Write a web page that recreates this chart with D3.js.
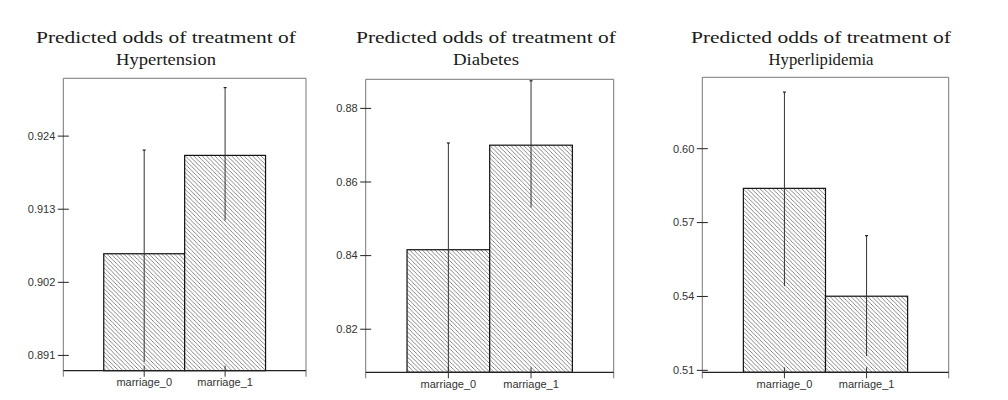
<!DOCTYPE html>
<html>
<head>
<meta charset="utf-8">
<script src="https://cdn.jsdelivr.net/npm/d3@7"></script>
<style>
  html, body { margin: 0; padding: 0; background: #fff; }
  svg { display: block; }
</style>
</head>
<body>
<svg id="chart" width="1008" height="400"></svg>
<script>
// ---------- DATA ----------
const categories = ["marriage_0", "marriage_1"];
const titleLine1 = "Predicted odds of treatment of";
const diseases = ["Hypertension", "Diabetes", "Hyperlipidemia"];

const hypertensionValues = [0.9063, 0.9211];
const hypertensionLower  = [0.8900, 0.9113];
const hypertensionUpper  = [0.9219, 0.9313];
const hypertensionTicks  = [0.891, 0.902, 0.913, 0.924];
const hypertensionDomain = [0.8887, 0.9327];

const diabetesValues = [0.8416, 0.8700];
const diabetesLower  = [0.8083, 0.8531];
const diabetesUpper  = [0.8706, 0.8875];
const diabetesTicks  = [0.82, 0.84, 0.86, 0.88];
const diabetesDomain = [0.8083, 0.8879];

const hyperlipidemiaValues = [0.5839, 0.5401];
const hyperlipidemiaLower  = [0.5442, 0.5158];
const hyperlipidemiaUpper  = [0.6230, 0.5647];
const hyperlipidemiaTicks  = [0.51, 0.54, 0.57, 0.60];
const hyperlipidemiaDomain = [0.5092, 0.6290];

const tickFormats = [".3f", ".2f", ".2f"];

// ---------- LAYOUT ----------
const layouts = [
  { left: 63.3,  right: 306,   top: 78.3, axisY: 370.7, titleX: 166, w1: 260, w2: 100 },
  { left: 365.7, right: 613.7, top: 79.3, axisY: 372.3, titleX: 486, w1: 260, w2: 66 },
  { left: 702.3, right: 948.7, top: 77.3, axisY: 372.3, titleX: 821, w1: 260, w2: 105 }
];

const panelsData = [
  { values: hypertensionValues, lower: hypertensionLower, upper: hypertensionUpper, ticks: hypertensionTicks, domain: hypertensionDomain },
  { values: diabetesValues, lower: diabetesLower, upper: diabetesUpper, ticks: diabetesTicks, domain: diabetesDomain },
  { values: hyperlipidemiaValues, lower: hyperlipidemiaLower, upper: hyperlipidemiaUpper, ticks: hyperlipidemiaTicks, domain: hyperlipidemiaDomain }
];

const svg = d3.select("#chart");

// hatch pattern
const defs = svg.append("defs");
const pat = defs.append("pattern")
  .attr("id", "hatch")
  .attr("patternUnits", "userSpaceOnUse")
  .attr("width", 4.2).attr("height", 4.2);
pat.append("rect").attr("width", 4.2).attr("height", 4.2).attr("fill", "#fff");
pat.append("path")
  .attr("d", "M-1,-1 L5.2,5.2 M3.2,-1 L5.2,1 M-1,3.2 L1,5.2")
  .attr("stroke", "#6a6a6a")
  .attr("stroke-width", 0.8);

panelsData.forEach((pd, i) => {
  const L = layouts[i];
  const g = svg.append("g");

  const x = d3.scaleBand()
    .domain(categories)
    .range([L.left, L.right])
    .paddingInner(0)
    .paddingOuter(0.5);

  const y = d3.scaleLinear()
    .domain(pd.domain)
    .range([L.axisY, L.top]);

  // titles
  g.append("text")
    .attr("x", L.titleX).attr("y", 43)
    .attr("text-anchor", "middle")
    .attr("font-family", "'Liberation Serif', 'DejaVu Serif', serif")
    .attr("font-size", 17.5)
    .attr("fill", "#1a1a1a")
    .attr("textLength", L.w1)
    .attr("lengthAdjust", "spacingAndGlyphs")
    .text(titleLine1);
  g.append("text")
    .attr("x", L.titleX).attr("y", 65)
    .attr("text-anchor", "middle")
    .attr("font-family", "'Liberation Serif', 'DejaVu Serif', serif")
    .attr("font-size", 17.5)
    .attr("fill", "#1a1a1a")
    .attr("textLength", L.w2)
    .attr("lengthAdjust", "spacingAndGlyphs")
    .text(diseases[i]);

  // frame (left, top, right)
  g.append("path")
    .attr("d", `M${L.left},${L.axisY + 6} L${L.left},${L.top} L${L.right},${L.top} L${L.right},${L.axisY + 6}`)
    .attr("fill", "none")
    .attr("stroke", "#777")
    .attr("stroke-width", 1);

  // bars
  g.selectAll("rect.bar")
    .data(categories)
    .join("rect")
    .attr("class", "bar")
    .attr("x", d => x(d))
    .attr("width", x.bandwidth())
    .attr("y", (d, j) => y(pd.values[j]))
    .attr("height", (d, j) => L.axisY - y(pd.values[j]))
    .attr("fill", "url(#hatch)")
    .attr("stroke", "#111")
    .attr("stroke-width", 1.2);

  // error bars
  g.selectAll("line.err")
    .data(categories)
    .join("line")
    .attr("class", "err")
    .attr("x1", d => x(d) + x.bandwidth() / 2)
    .attr("x2", d => x(d) + x.bandwidth() / 2)
    .attr("y1", (d, j) => y(pd.upper[j]))
    .attr("y2", (d, j) => y(pd.lower[j]))
    .attr("stroke", "#333")
    .attr("stroke-width", 1);
  g.selectAll("line.cap")
    .data(categories)
    .join("line")
    .attr("class", "cap")
    .attr("x1", d => x(d) + x.bandwidth() / 2 - 1.5)
    .attr("x2", d => x(d) + x.bandwidth() / 2 + 1.5)
    .attr("y1", (d, j) => y(pd.upper[j]))
    .attr("y2", (d, j) => y(pd.upper[j]))
    .attr("stroke", "#222")
    .attr("stroke-width", 1.2);

  // y axis ticks (crossing frame)
  const fmt = d3.format(tickFormats[i]);
  const yt = g.selectAll("g.ytick").data(pd.ticks).join("g")
    .attr("class", "ytick")
    .attr("transform", d => `translate(0,${y(d)})`);
  yt.append("line")
    .attr("x1", L.left - 5.5).attr("x2", L.left + 5.5)
    .attr("stroke", "#222").attr("stroke-width", 1);
  yt.append("text")
    .attr("x", L.left - 8)
    .attr("dy", "0.35em")
    .attr("text-anchor", "end")
    .attr("font-family", "'Liberation Sans', Arial, sans-serif")
    .attr("font-size", 11)
    .attr("fill", "#333")
    .text(d => fmt(d));

  // x axis
  g.append("line")
    .attr("x1", L.left).attr("x2", L.right)
    .attr("y1", L.axisY).attr("y2", L.axisY)
    .attr("stroke", "#222").attr("stroke-width", 1.2);
  const xt = g.selectAll("g.xtick").data(categories).join("g")
    .attr("class", "xtick")
    .attr("transform", d => `translate(${x(d) + x.bandwidth() / 2},${L.axisY})`);
  xt.append("line")
    .attr("y1", -5).attr("y2", 6)
    .attr("stroke", "#333").attr("stroke-width", 1);
  xt.append("text")
    .attr("y", 15.5)
    .attr("text-anchor", "middle")
    .attr("font-family", "'Liberation Sans', Arial, sans-serif")
    .attr("font-size", 11)
    .attr("fill", "#333")
    .text(d => d);
});
</script>
</body>
</html>
